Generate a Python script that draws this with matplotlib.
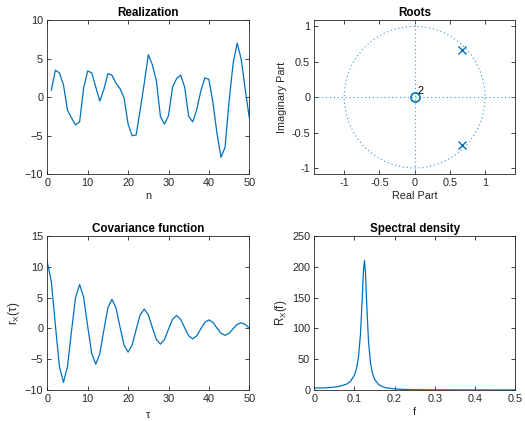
import numpy as np
import matplotlib
matplotlib.use("Agg")
import matplotlib.pyplot as plt
from matplotlib.patches import Circle

plt.rcParams['font.family'] = ['Liberation Sans', 'DejaVu Sans']
plt.rcParams['mathtext.fontset'] = 'custom'
plt.rcParams['mathtext.rm'] = 'Liberation Sans'
plt.rcParams['mathtext.it'] = 'Liberation Sans:italic'

# ---- data ----
n = list(range(1, 51))
realization = [0.9, 3.5, 3.15, 1.6, -1.7, -2.7, -3.6, -3.2, 1.2, 3.4,
               3.15, 1.3, -0.5, 1.0, 3.05, 2.85, 1.8, 1.1, -0.1, -3.5,
               -5.0, -4.9, -1.6, 1.8, 5.5, 4.2, 2.1, -2.5, -3.5, -2.4,
               1.3, 2.4, 2.85, 1.3, -2.5, -3.2, -1.6, 0.8, 2.5, 2.3,
               -0.7, -4.7, -7.8, -6.5, -0.5, 4.4, 7.0, 4.9, 1.0, -2.7]

zeros_re = [0.0]
zeros_im = [0.0]
zero_mult = "2"
poles_re = [0.672, 0.672]
poles_im = [0.672, -0.672]

tau = list(range(0, 51))
covariance = [10.75, 7.59, 0.50, -6.19, -8.76, -6.18, -0.40, 5.04, 7.13, 5.04,
              0.33, -4.10, -5.81, -4.10, -0.27, 3.34, 4.73, 3.34, 0.22, -2.72,
              -3.85, -2.72, -0.18, 2.22, 3.14, 2.22, 0.14, -1.81, -2.56, -1.81,
              -0.12, 1.47, 2.09, 1.47, 0.10, -1.20, -1.70, -1.20, -0.08, 0.98,
              1.38, 0.98, 0.06, -0.80, -1.13, -0.80, -0.05, 0.65, 0.92, 0.65,
              0.04]

freq = [0.0, 0.02, 0.04, 0.06, 0.08, 0.09, 0.10, 0.105, 0.11, 0.115, 0.12,
        0.1225, 0.125, 0.1275, 0.13, 0.135, 0.14, 0.145, 0.15, 0.16, 0.17,
        0.18, 0.20, 0.22, 0.25, 0.30, 0.35, 0.40, 0.45, 0.50]
spectrum = [3.20, 3.38, 4.00, 5.49, 9.35, 13.9, 24.1, 34.4, 53.1, 89.9, 157.9,
            195.3, 210.2, 189.3, 148.3, 79.3, 44.0, 26.7, 17.6, 8.94, 5.28,
            3.42, 1.73, 1.02, 0.551, 0.267, 0.165, 0.120, 0.101, 0.095]

# ---- style ----
blue = '#0072BD'
axc = '#262626'
tick_fs = 7.8
title_fs = 8.4
W, H = 525, 421

fig = plt.figure(figsize=(W / 100, H / 100), dpi=100)

def make_ax(l, t, r, b):
    ax = fig.add_axes([l / W, 1 - b / H, (r - l) / W, (b - t) / H])
    for s in ax.spines.values():
        s.set_color(axc)
        s.set_linewidth(0.6)
    ax.tick_params(direction='in', top=True, right=True, length=3,
                   width=0.6, colors=axc, labelsize=tick_fs, pad=3)
    return ax

L1, R1 = 47.3, 249.3
L2, R2 = 314.3, 515.0
T1, B1 = 20.0, 174.3
T2, B2 = 236.0, 390.0

# Realization
ax = make_ax(L1, T1, R1, B1)
ax.plot(n, realization, color=blue, lw=0.9)
ax.set_xlim(0, 50)
ax.set_ylim(-10, 10)
ax.set_xticks([0, 10, 20, 30, 40, 50])
ax.set_yticks([-10, -5, 0, 5, 10])
ax.set_title('Realization', fontsize=title_fs, fontweight='bold', color='black', pad=3)
ax.set_xlabel('n', fontsize=tick_fs, color=axc, labelpad=2)

# Roots
ax = make_ax(L2, T1, R2, B1)
dot = (0, (1, 2.5))
ax.add_patch(Circle((0, 0), 1, fill=False, ls=dot, lw=0.8, color='#3d95d0'))
ax.axhline(0, ls=dot, lw=0.8, color='#3d95d0')
ax.axvline(0, ls=dot, lw=0.8, color='#3d95d0')
ax.plot(zeros_re, zeros_im, 'o', mfc='none', mec=blue, ms=6.5, mew=1.2)
ax.plot(poles_re, poles_im, 'x', color=blue, ms=5.5, mew=1.0)
ax.text(zeros_re[0] + 0.04, zeros_im[0] + 0.02, zero_mult, fontsize=tick_fs,
        color='black', ha='left', va='bottom')
ax.set_xlim(-1.425, 1.425)
ax.set_ylim(-1.09, 1.09)
ax.set_xticks([-1, -0.5, 0, 0.5, 1])
ax.set_xticklabels(['-1', '-0.5', '0', '0.5', '1'])
ax.set_yticks([-1, -0.5, 0, 0.5, 1])
ax.set_yticklabels(['-1', '-0.5', '0', '0.5', '1'])
ax.set_title('Roots', fontsize=title_fs, fontweight='bold', color='black', pad=3)
ax.set_xlabel('Real Part', fontsize=tick_fs, color=axc, labelpad=2)
ax.set_ylabel('Imaginary Part', fontsize=tick_fs, color=axc, labelpad=3)

# Covariance
ax = make_ax(L1, T2, R1, B2)
ax.plot(tau, covariance, color=blue, lw=0.9)
ax.set_xlim(0, 50)
ax.set_ylim(-10, 15)
ax.set_xticks([0, 10, 20, 30, 40, 50])
ax.set_yticks([-10, -5, 0, 5, 10, 15])
ax.set_title('Covariance function', fontsize=title_fs, fontweight='bold', color='black', pad=3)
ax.set_xlabel('\u03c4', fontsize=tick_fs, color=axc, labelpad=4)
ax.set_ylabel(r'$\mathrm{r_X(\tau)}$', fontsize=tick_fs + 0.5, color=axc, labelpad=2)

# Spectral density
ax = make_ax(L2, T2, R2, B2)
ax.plot(freq, spectrum, color=blue, lw=0.9)
ax.set_xlim(0, 0.5)
ax.set_ylim(0, 250)
ax.set_xticks([0, 0.1, 0.2, 0.3, 0.4, 0.5])
ax.set_xticklabels(['0', '0.1', '0.2', '0.3', '0.4', '0.5'])
ax.set_yticks([0, 50, 100, 150, 200, 250])
ax.set_title('Spectral density', fontsize=title_fs, fontweight='bold', color='black', pad=3)
ax.set_xlabel('f', fontsize=tick_fs, color=axc, labelpad=2)
ax.set_ylabel(r'$\mathrm{R_X(f)}$', fontsize=tick_fs + 0.5, color=axc, labelpad=2)

fig.savefig('out.png', dpi=100)
